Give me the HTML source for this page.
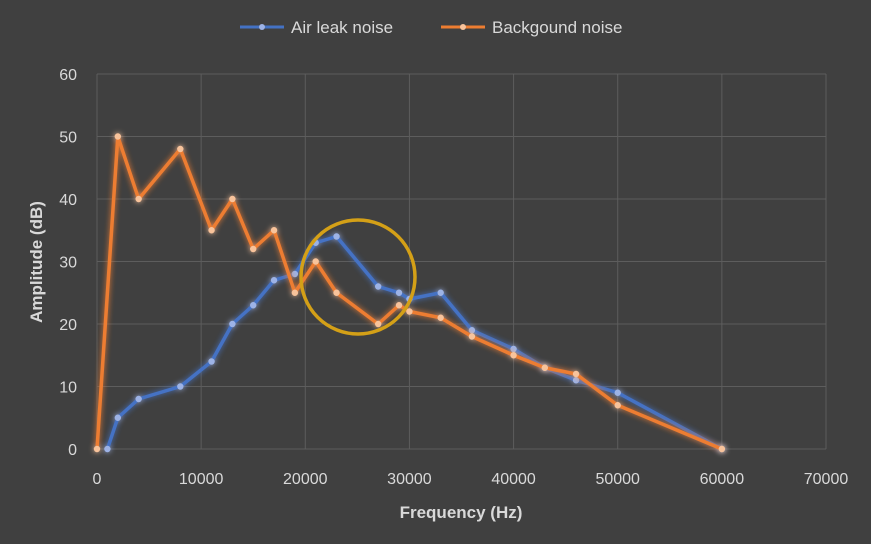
<!DOCTYPE html>
<html><head><meta charset="utf-8"><style>
body{margin:0;background:#404040;}
svg{display:block;font-family:"Liberation Sans",sans-serif;}
</style></head><body>
<svg id="chart" width="871" height="544" viewBox="0 0 871 544">
<defs>
<filter id="glowB" x="-20%" y="-20%" width="140%" height="140%"><feGaussianBlur in="SourceGraphic" stdDeviation="3" result="b"/><feMerge><feMergeNode in="b"/><feMergeNode in="SourceGraphic"/></feMerge></filter>
</defs>
<rect width="871" height="544" fill="#404040"/>
<g id="grid"></g>
<g id="series"></g>
<circle cx="358" cy="277" r="57" fill="none" stroke="#d4a017" stroke-width="3.5"/>
<g>
<g>
<line x1="240" y1="27" x2="284" y2="27" stroke="#4472c4" stroke-width="3"/><circle cx="262" cy="27" r="3" fill="#9db3e6"/>
<text x="291" y="33" font-size="17" fill="#d9d9d9">Air leak noise</text></g>
<g>
<line x1="441" y1="27" x2="485" y2="27" stroke="#ed7d31" stroke-width="3"/><circle cx="463" cy="27" r="3" fill="#f8c39b"/>
<text x="492" y="33" font-size="17" fill="#d9d9d9">Backgound noise</text></g>
</g>
<text x="461" y="518" font-size="17" font-weight="bold" fill="#d9d9d9" text-anchor="middle">Frequency (Hz)</text>
<text transform="translate(42,262) rotate(-90)" font-size="17" font-weight="bold" fill="#d9d9d9" text-anchor="middle">Amplitude (dB)</text>
</svg>
<script>
const xTicks=[0,10000,20000,30000,40000,50000,60000,70000];
const yTicks=[0,10,20,30,40,50,60];
const airFreq=[1000,2000,4000,8000,11000,13000,15000,17000,19000,21000,23000,27000,29000,30000,33000,36000,40000,43000,46000,50000,60000];
const airAmp=[0,5,8,10,14,20,23,27,28,33,34,26,25,24,25,19,16,13,11,9,0];
const bgFreq=[0,2000,4000,8000,11000,13000,15000,17000,19000,21000,23000,27000,29000,30000,33000,36000,40000,43000,46000,50000,60000];
const bgAmp=[0,50,40,48,35,40,32,35,25,30,25,20,23,22,21,18,15,13,12,7,0];
const NS='http://www.w3.org/2000/svg';
const X0=97,X1=826,Y0=449,Y1=74;
const sx=v=>X0+(v-0)/70000*(X1-X0);
const sy=v=>Y0-(v-0)/60*(Y0-Y1);
const grid=document.getElementById('grid');
function mk(t,a,p){const e=document.createElementNS(NS,t);for(const k in a)e.setAttribute(k,a[k]);p.appendChild(e);return e;}
yTicks.forEach(v=>{
 const l=mk('line',{x1:X0,x2:X1,y1:sy(v),y2:sy(v),stroke:'#5d5d5d','stroke-width':1},grid);
 
 
 const t=mk('text',{x:X0-20,y:sy(v)+6,'font-size':16,fill:'#d9d9d9','text-anchor':'end'},grid);t.textContent=v;
 
 
});
xTicks.forEach(v=>{
 const l=mk('line',{x1:sx(v),x2:sx(v),y1:Y1,y2:Y0,stroke:'#5d5d5d','stroke-width':1},grid);
 
 
 const t=mk('text',{x:sx(v),y:Y0+35,'font-size':16,fill:'#d9d9d9','text-anchor':'middle'},grid);t.textContent=v;
 
 
});
const sg=document.getElementById('series');
function series(xs,ys,col,mc,name){
 const g=mk('g',{filter:'url(#glowB)'},sg);
 
 
 const pl=mk('polyline',{points:xs.map((x,i)=>sx(x)+','+sy(ys[i])).join(' '),fill:'none',stroke:col,'stroke-width':3.5,'stroke-linejoin':'round'},g);
 
 
 xs.forEach((x,i)=>{const c=mk('circle',{cx:sx(x),cy:sy(ys[i]),r:3.2,fill:mc},g);
 
 });
}
series(airFreq,airAmp,'#4472c4','#9db3e6','air-leak-series');
series(bgFreq,bgAmp,'#ed7d31','#f8c39b','background-series');
</script>
</body></html>
